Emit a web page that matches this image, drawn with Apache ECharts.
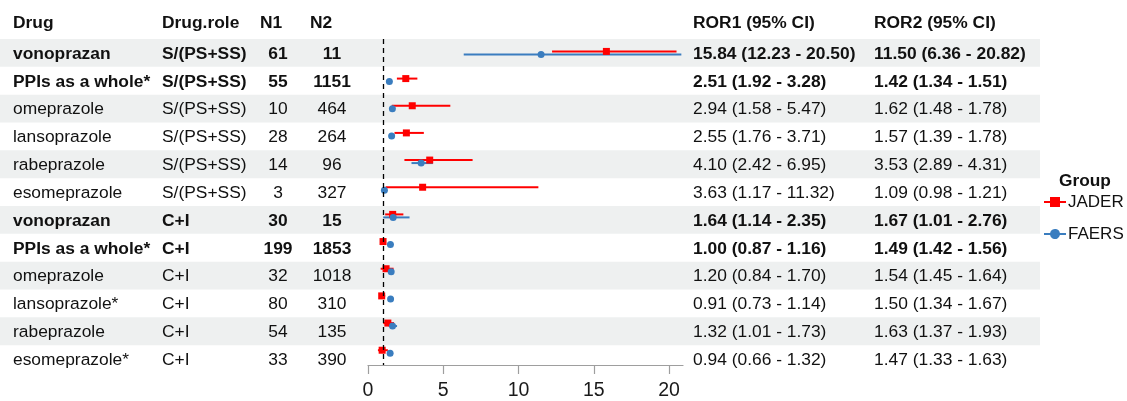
<!DOCTYPE html>
<html>
<head>
<meta charset="utf-8">
<script src="https://cdn.jsdelivr.net/npm/echarts@6/dist/echarts.min.js"></script>
<style>
  html, body { margin: 0; padding: 0; background: #fff; }
  #chart { width: 1127px; height: 401px; }
</style>
</head>
<body>
<div id="chart"></div>
<script>
// table rows
const drugs = ['vonoprazan', 'PPIs as a whole*', 'omeprazole', 'lansoprazole', 'rabeprazole', 'esomeprazole',
  'vonoprazan', 'PPIs as a whole*', 'omeprazole', 'lansoprazole*', 'rabeprazole', 'esomeprazole*'];
const roles = ['S/(PS+SS)', 'S/(PS+SS)', 'S/(PS+SS)', 'S/(PS+SS)', 'S/(PS+SS)', 'S/(PS+SS)',
  'C+I', 'C+I', 'C+I', 'C+I', 'C+I', 'C+I'];
const n1 = [61, 55, 10, 28, 14, 3, 30, 199, 32, 80, 54, 33];
const n2 = [11, 1151, 464, 264, 96, 327, 15, 1853, 1018, 310, 135, 390];
const boldRow = [1, 1, 0, 0, 0, 0, 1, 1, 0, 0, 0, 0];

// JADER
const ror1 = [15.84, 2.51, 2.94, 2.55, 4.10, 3.63, 1.64, 1.00, 1.20, 0.91, 1.32, 0.94];
const ror1Lo = [12.23, 1.92, 1.58, 1.76, 2.42, 1.17, 1.14, 0.87, 0.84, 0.73, 1.01, 0.66];
const ror1Hi = [20.50, 3.28, 5.47, 3.71, 6.95, 11.32, 2.35, 1.16, 1.70, 1.14, 1.73, 1.32];
// FAERS
const ror2 = [11.50, 1.42, 1.62, 1.57, 3.53, 1.09, 1.67, 1.49, 1.54, 1.50, 1.63, 1.47];
const ror2Lo = [6.36, 1.34, 1.48, 1.39, 2.89, 0.98, 1.01, 1.42, 1.45, 1.34, 1.37, 1.33];
const ror2Hi = [20.82, 1.51, 1.78, 1.78, 4.31, 1.21, 2.76, 1.56, 1.64, 1.67, 1.93, 1.63];

const headers = ['Drug', 'Drug.role', 'N1', 'N2', 'ROR1 (95% CI)', 'ROR2 (95% CI)'];
const xTicks = [0, 5, 10, 15, 20];

const FONT = 'Liberation Sans, Arial, sans-serif';
const FS = 17.4;
const RED = '#ff0000';
const BLUE = '#3a7dbf';

const fmtCI = (v, lo, hi) => v.toFixed(2) + ' (' + lo.toFixed(2) + ' - ' + hi.toFixed(2) + ')';
const ror1Txt = ror1.map((v, i) => fmtCI(v, ror1Lo[i], ror1Hi[i]));
const ror2Txt = ror2.map((v, i) => fmtCI(v, ror2Lo[i], ror2Hi[i]));

// column layout (table grid x = pixels)
const headX = [13, 162, 260, 310, 693, 874];
const cols = [
  { x: 13, align: 'left', texts: drugs },
  { x: 162, align: 'left', texts: roles },
  { x: 278, align: 'center', texts: n1.map(String) },
  { x: 332, align: 'center', texts: n2.map(String) },
  { x: 693, align: 'left', texts: ror1Txt },
  { x: 874, align: 'left', texts: ror2Txt }
];

const chart = echarts.init(document.getElementById('chart'), null, { renderer: 'canvas' });

function textSeries(x, texts, align, header) {
  return {
    type: 'custom',
    xAxisIndex: 0,
    yAxisIndex: 0,
    silent: true,
    z: 5,
    encode: { x: 0, y: 1 },
    data: texts.map((t, i) => [x, header ? 0 : i + 1]),
    renderItem: function (params, api) {
      const p = api.coord([api.value(0), api.value(1)]);
      const i = params.dataIndex;
      const bold = header || boldRow[i];
      return {
        type: 'text',
        x: p[0],
        y: p[1] + (header ? -2 : 1),
        style: {
          text: texts[i],
          fill: '#111',
          fontFamily: FONT,
          fontSize: FS,
          fontWeight: bold ? 'bold' : 'normal',
          align: align,
          verticalAlign: 'middle'
        }
      };
    }
  };
}

function ciSeries(lo, hi, color, off) {
  return {
    type: 'custom',
    xAxisIndex: 1,
    yAxisIndex: 1,
    silent: true,
    z: 3,
    encode: { x: 0, y: 1 },
    data: lo.map((v, i) => [v, i, hi[i]]),
    renderItem: function (params, api) {
      const a = api.coord([api.value(0), api.value(1)]);
      const b = api.coord([api.value(2), api.value(1)]);
      return {
        type: 'line',
        shape: { x1: a[0], y1: a[1] + off, x2: b[0], y2: b[1] + off },
        style: { stroke: color, lineWidth: 2 }
      };
    }
  };
}

const series = [];
cols.forEach(c => series.push(textSeries(c.x, c.texts, c.align, false)));
headers.forEach((h, k) => series.push(textSeries(headX[k], [h], 'left', true)));

series.push(ciSeries(ror1Lo, ror1Hi, RED, -1.2));
series.push(ciSeries(ror2Lo, ror2Hi, BLUE, 1.8));

series.push({
  name: 'JADER',
  type: 'scatter',
  xAxisIndex: 1,
  yAxisIndex: 1,
  symbol: 'rect',
  symbolSize: 7,
  symbolOffset: [0, -1.2],
  itemStyle: { color: RED, opacity: 1 },
  z: 4,
  data: ror1.map((v, i) => [v, i]),
  markLine: {
    silent: true,
    symbol: 'none',
    label: { show: false },
    lineStyle: { color: '#000', type: [5, 4], width: 1.3 },
    data: [{ xAxis: 1 }]
  }
});
series.push({
  name: 'FAERS',
  type: 'scatter',
  xAxisIndex: 1,
  yAxisIndex: 1,
  symbol: 'circle',
  symbolSize: 7,
  symbolOffset: [0, 1.8],
  itemStyle: { color: BLUE, opacity: 1 },
  z: 4,
  data: ror2.map((v, i) => [v, i])
});

const rowCats = drugs.map((_, i) => String(i));

chart.setOption({
  animation: false,
  backgroundColor: '#fff',
  title: {
    text: 'Group',
    left: 1059,
    top: 173,
    padding: 0,
    textStyle: { fontFamily: FONT, fontSize: 17.3, fontWeight: 'bold', color: '#111' }
  },
  legend: {
    orient: 'vertical',
    left: 1044,
    top: 192,
    padding: 0,
    itemWidth: 22,
    itemHeight: 10,
    itemGap: 12,
    textStyle: { fontFamily: FONT, fontSize: 17, color: '#111', lineHeight: 20, padding: [0, 0, 0, -3] },
    data: [
      { name: 'JADER', icon: 'path://M0,4H6V0H16V4H22V6H16V10H6V6H0Z', itemStyle: { color: RED, opacity: 1 } },
      { name: 'FAERS', icon: 'path://M0,4H6.1A5,5,0,0,1,15.9,4H22V6H15.9A5,5,0,0,1,6.1,6H0Z', itemStyle: { color: BLUE, opacity: 1 } }
    ]
  },
  grid: [
    { left: 0, right: 87, top: 373 - 13 * 27.83, bottom: 28 },
    { left: 368, right: 444, top: 373 - 12 * 27.83, bottom: 28 }
  ],
  xAxis: [
    { gridIndex: 0, type: 'value', min: 0, max: 1040, show: false },
    {
      gridIndex: 1,
      type: 'value',
      min: 0,
      max: 20.93,
      axisLine: { show: true, lineStyle: { color: '#9e9e9e', width: 1.2 } },
      axisTick: { show: true, length: 9, customValues: xTicks, lineStyle: { color: '#9e9e9e', width: 1.2 } },
      axisLabel: { customValues: xTicks, fontFamily: FONT, fontSize: 19.5, color: '#1a1a1a', margin: 16 },
      splitLine: { show: false }
    }
  ],
  yAxis: [
    {
      gridIndex: 0,
      type: 'category',
      inverse: true,
      data: ['h'].concat(rowCats),
      axisLine: { show: false },
      axisTick: { show: false },
      axisLabel: { show: false },
      splitLine: { show: false },
      splitArea: { show: true, areaStyle: { color: ['rgba(255,255,255,0)', '#eef0f0'] } }
    },
    {
      gridIndex: 1,
      type: 'category',
      inverse: true,
      data: rowCats,
      show: false
    }
  ],
  series: series
});
</script>
</body>
</html>
